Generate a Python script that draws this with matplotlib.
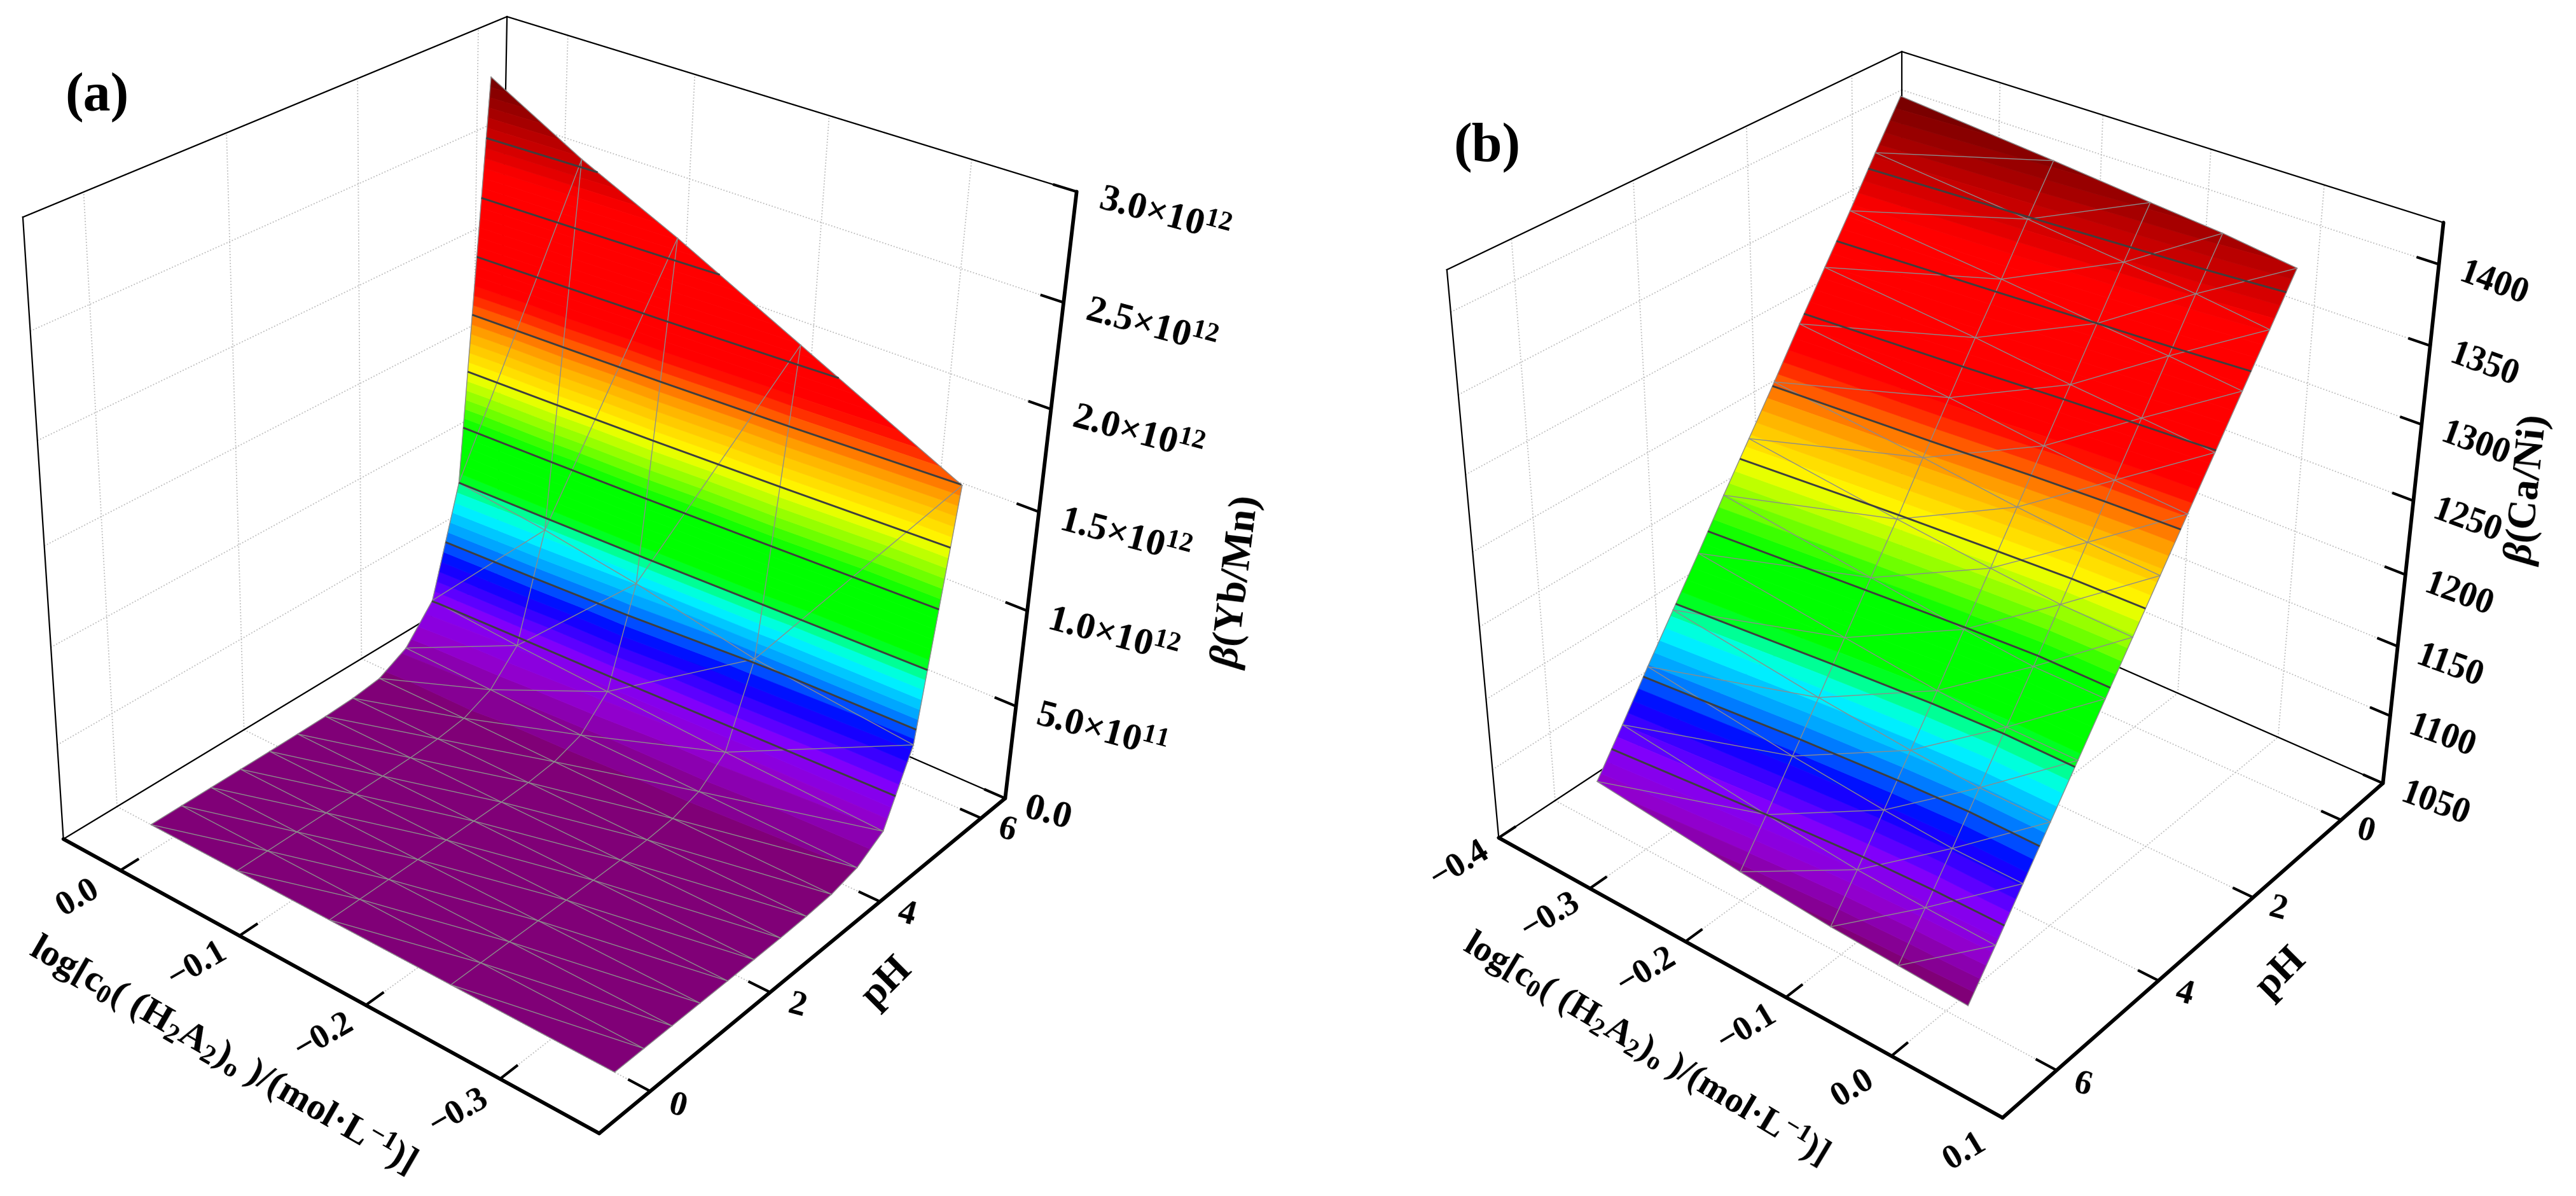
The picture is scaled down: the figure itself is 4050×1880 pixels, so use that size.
import numpy as np
import matplotlib
matplotlib.use("Agg")
import matplotlib.pyplot as plt
from matplotlib.colors import LinearSegmentedColormap
from mpl_toolkits.mplot3d import proj3d
from mpl_toolkits.mplot3d.art3d import Poly3DCollection

plt.rcParams.update({
    "font.family": "Liberation Serif", "font.weight": "bold",
    "mathtext.fontset": "custom", "mathtext.default": "regular",
    "mathtext.rm": "Liberation Serif:bold",
    "mathtext.it": "Liberation Serif:italic:bold",
    "mathtext.bf": "Liberation Serif:bold",
})

W, H = 4050, 1881

# ---------- data, panel (a)
a_logc = [0.02, -0.054, -0.13, -0.225, -0.345]
a_ph = [5.6, 5.13, 4.67, 4.2, 3.73, 3.27, 2.8, 2.33, 1.87, 1.4, 0.93, 0.47, 0]
a_beta = [[2.87e12, 2.62e12, 2.40e12, 2.10e12, 1.72e12],
          [0.86e12, 0.80e12, 0.72e12, 0.59e12, 0.50e12],
          [0.29e12, 0.25e12, 0.22e12, 0.18e12, 0.14e12],
          [0.11e12, 0.095e12, 0.075e12, 0.065e12, 0.05e12],
          [0.03e12, 0.03e12, 0.025e12, 0.02e12, 0.015e12],
          [0.01e12, 0.01e12, 0.008e12, 0.006e12, 0.005e12],
          [0.003e12, 0.003e12, 0.002e12, 0.002e12, 0.001e12],
          [0.001e12, 0.001e12, 0.001e12, 0.0, 0.0],
          [0.0, 0.0, 0.0, 0.0, 0.0],
          [0.0, 0.0, 0.0, 0.0, 0.0],
          [0.0, 0.0, 0.0, 0.0, 0.0],
          [0.0, 0.0, 0.0, 0.0, 0.0],
          [0.0, 0.0, 0.0, 0.0, 0.0]]
a_xticks = [0.0, -0.1, -0.2, -0.3]
a_xticklabels = ["0.0", "−0.1", "−0.2", "−0.3"]
a_yticks = [0, 2, 4, 6]
a_zticks = [0.0, 5e11, 1e12, 1.5e12, 2e12, 2.5e12, 3e12]
a_zticklabels = ["0.0", "5.0×10$^{11}$", "1.0×10$^{12}$", "1.5×10$^{12}$",
                 "2.0×10$^{12}$", "2.5×10$^{12}$", "3.0×10$^{12}$"]

# ---------- data, panel (b)
b_logc = [-0.35, -0.2, -0.11, -0.045, 0.02]
b_ph = [0, 0.5, 1, 1.5, 2, 2.5, 3, 3.5, 4, 4.5, 5, 5.5, 6]
b_beta = [[1422, 1413, 1407, 1403, 1397],
          [1394, 1385, 1379, 1375, 1369],
          [1365, 1356, 1350, 1346, 1341],
          [1337, 1328, 1321, 1317, 1313],
          [1309, 1299, 1292, 1288, 1285],
          [1280, 1270, 1263, 1259, 1257],
          [1252, 1240, 1234, 1230, 1229],
          [1224, 1212, 1205, 1201, 1201],
          [1195, 1183, 1176, 1173, 1173],
          [1167, 1154, 1148, 1145, 1145],
          [1139, 1126, 1120, 1117, 1117],
          [1110, 1098, 1092, 1090, 1089],
          [1082, 1071, 1066, 1064, 1062]]
b_xticks = [-0.4, -0.3, -0.2, -0.1, 0.0, 0.1]
b_xticklabels = ["−0.4", "−0.3", "−0.2", "−0.1", "0.0", "0.1"]
b_yticks = [0, 2, 4, 6]
b_zticks = [1050, 1100, 1150, 1200, 1250, 1300, 1350, 1400]
b_zticklabels = ["1050", "1100", "1150", "1200", "1250", "1300", "1350", "1400"]

XLABEL = "log[c$_0$( (H$_2$A$_2$)$_o$ )/(mol·L$^{-1}$)]"

# ---------- colours: fraction of the surface range -> colour
stops = [(0.0, (125, 0, 105)), (0.055, (145, 0, 205)), (0.11, (128, 0, 255)),
         (0.167, (0, 0, 255)), (0.22, (0, 160, 255)), (0.267, (0, 255, 255)),
         (0.295, (0, 255, 128)), (0.31, (0, 255, 0)), (0.40, (0, 255, 0)),
         (0.50, (255, 255, 0)), (0.575, (255, 160, 0)), (0.65, (255, 0, 0)),
         (0.85, (255, 0, 0)), (1.0, (115, 0, 0))]
cmap = LinearSegmentedColormap.from_list(
    "origin_rainbow", [(f, tuple(c / 255 for c in rgb)) for f, rgb in stops])


def box_projection(px):
    """3x4 camera matrix of the unit box from its corners in reference pixels."""
    rows = []
    for (nx, ny, nz), (u, v) in px:
        X = [nx, ny, nz, 1]
        rows.append(X + [0, 0, 0, 0] + [-u * c for c in X])
        rows.append([0, 0, 0, 0] + X + [-v * c for c in X])
    return np.linalg.svd(np.array(rows, float))[2][-1].reshape(3, 4)


def clip_z(poly, level, keep_above):
    out = []
    n = len(poly)
    for i in range(n):
        p, q = poly[i], poly[(i + 1) % n]
        ip = (p[2] >= level) == keep_above
        iq = (q[2] >= level) == keep_above
        if ip:
            out.append(p)
        if ip != iq and p[2] != q[2]:
            t = (level - p[2]) / (q[2] - p[2])
            out.append(tuple(p[k] + t * (q[k] - p[k]) for k in range(3)))
    return out


def draw_panel(fig, corners, xlim, ylim, zlim, logc, ph, beta, xticks, xlabels,
               yticks, zticks, zlabels, zrot, xyrot, yrot, zsize):
    ax = fig.add_axes([0, 0, 1, 1], projection="3d", facecolor="none",
                      computed_zorder=False, proj_type="ortho")
    ax.apply_aspect = lambda *a, **k: None
    ax._set_position([0, 0, 1, 1])
    ax.set_axis_off()
    ax.patch.set_visible(False)

    P = box_projection(corners)
    S = np.array([[1 / (xlim[1] - xlim[0]), 0, 0, -xlim[0] / (xlim[1] - xlim[0])],
                  [0, 1 / (ylim[1] - ylim[0]), 0, -ylim[0] / (ylim[1] - ylim[0])],
                  [0, 0, 1 / (zlim[1] - zlim[0]), -zlim[0] / (zlim[1] - zlim[0])],
                  [0, 0, 0, 1]])
    C = P @ S
    centre = np.array([np.mean(xlim), np.mean(ylim), np.mean(zlim), 1.0])
    if C[2] @ centre < 0:
        C = -C

    def get_proj():
        to_pix = np.array([[1, 0, 0], [0, -1, H], [0, 0, 1]], float)
        T = ax.transData.inverted().get_matrix() @ to_pix
        A = T @ C
        depth = A[2] - np.array([0, 0, 0, A[2] @ centre])
        return np.vstack([A[0], A[1], depth, A[2]])

    ax.get_proj = get_proj

    x0, x1 = xlim
    y0, y1 = ylim
    z0, z1 = zlim

    grid = dict(color="#bcbcbc", lw=1.3, ls=(0, (1, 1.6)), zorder=1)
    for t in xticks:
        ax.plot([t, t], [y0, y1], [z0, z0], **grid)
        ax.plot([t, t], [y1, y1], [z0, z1], **grid)
    for t in yticks:
        ax.plot([x0, x1], [t, t], [z0, z0], **grid)
        ax.plot([x0, x0], [t, t], [z0, z1], **grid)
    for t in zticks:
        ax.plot([x0, x0], [y0, y1], [t, t], **grid)
        ax.plot([x0, x1], [y1, y1], [t, t], **grid)

    thin = dict(color="black", lw=1.6, zorder=2)
    for xs, ys, zs in [([x0, x0], [y0, y1], [z0, z0]), ([x0, x1], [y1, y1], [z0, z0]),
                       ([x0, x0], [y1, y1], [z0, z1]), ([x0, x0], [y0, y0], [z0, z1]),
                       ([x0, x0], [y0, y1], [z1, z1]), ([x0, x1], [y1, y1], [z1, z1])]:
        ax.plot(xs, ys, zs, **thin)

    # surface: triangles of the table, cut into constant colour bands
    X, Y = np.meshgrid(logc, ph)
    Z = np.array(beta, float)
    zmin, zmax = Z.min(), Z.max()
    edges = np.linspace(zmin, zmax, 61)
    polys, cols, mesh = [], [], []
    for r in range(Z.shape[0] - 1):
        for i in range(Z.shape[1] - 1):
            a = (X[r, i], Y[r, i], Z[r, i])
            b = (X[r, i + 1], Y[r, i + 1], Z[r, i + 1])
            c = (X[r + 1, i], Y[r + 1, i], Z[r + 1, i])
            d = (X[r + 1, i + 1], Y[r + 1, i + 1], Z[r + 1, i + 1])
            mesh += [(a, b), (a, c), (b, c)]
            if r == Z.shape[0] - 2:
                mesh.append((c, d))
            if i == Z.shape[1] - 2:
                mesh.append((b, d))
            for tri in ([a, b, c], [b, d, c]):
                low, high = min(p[2] for p in tri), max(p[2] for p in tri)
                for k in range(len(edges) - 1):
                    lo, hi = edges[k], edges[k + 1]
                    if hi < low or lo > high:
                        continue
                    pg = clip_z(tri, lo, True)
                    pg = clip_z(pg, hi, False) if pg else pg
                    if len(pg) >= 3:
                        polys.append(pg)
                        cols.append(cmap((k + 0.5) / (len(edges) - 1)))
    ax.add_collection3d(Poly3DCollection(polys, facecolors=cols, edgecolors=cols,
                                         linewidths=0.5, zorder=3))
    for p, q in mesh:
        ax.plot([p[0], q[0]], [p[1], q[1]], [p[2], q[2]], color="#8c8c8c",
                lw=1.0, zorder=4)
    ax.contour(X, Y, Z, levels=zmin + (zmax - zmin) * np.arange(1, 10) / 10,
               colors="#3e3e3e", linewidths=2.1, zorder=5)

    # front axes, ticks, tick labels
    thick = dict(color="black", lw=4.2, solid_capstyle="round", zorder=6)
    ax.plot([x0, x1], [y0, y0], [z0, z0], **thick)
    ax.plot([x1, x1], [y0, y1], [z0, z0], **thick)
    ax.plot([x1, x1], [y1, y1], [z0, z1], **thick)
    dx, dy = x1 - x0, y1 - y0
    tick = dict(color="black", lw=3.0, zorder=6)
    M = get_proj()
    T2 = ax.transData

    def lab(x, y, z, s, rot, ha="center", size=39):
        u, v, _ = proj3d.proj_transform(x, y, z, M)
        ax.text2D(u, v, s, transform=T2, rotation=rot, ha=ha, va="center",
                  rotation_mode="anchor", fontsize=size, fontweight="bold", zorder=7)

    for t, s in zip(xticks, xlabels):
        ax.plot([t, t], [y0, y0 + 0.035 * dy], [z0, z0], **tick)
        lab(t, y0 - 0.085 * dy, z0, s, xyrot)
    for t in yticks:
        ax.plot([x1, x1 - 0.035 * dx], [t, t], [z0, z0], **tick)
        lab(x1 + 0.045 * dx, t, z0, str(t), yrot)
    for t, s in zip(zticks, zlabels):
        ax.plot([x1, x1 - 0.035 * dx], [y1, y1], [t, t], **tick)
        lab(x1 + 0.035 * dx, y1, t, s, zrot, ha="left", size=zsize)
    ax.set_xlim(min(xlim), max(xlim))
    ax.set_ylim(min(ylim), max(ylim))
    ax.set_zlim(min(zlim), max(zlim))
    return ax


fig = plt.figure(figsize=(W / 100, H / 100), dpi=100, facecolor="white")

corners_a = [((0, 0, 0), (100, 1318)), ((1, 0, 0), (942, 1784)), ((1, 1, 0), (1581, 1254)),
             ((0, 1, 0), (780, 910)), ((0, 0, 1), (35.6, 343)), ((0, 1, 1), (798, 26)),
             ((1, 1, 1), (1692, 303))]
corners_b = [((0, 0, 0), (2357, 1317)), ((1, 0, 0), (3149.5, 1758)), ((1, 1, 0), (3747, 1233)),
             ((0, 1, 0), (2988, 900)), ((0, 0, 1), (2273, 426)), ((0, 1, 1), (2993, 82)),
             ((1, 1, 1), (3840, 350))]

draw_panel(fig, corners_a, (0.05, -0.37), (-0.8, 6.5), (0, 3e12), a_logc, a_ph, a_beta,
           a_xticks, a_xticklabels, a_yticks, a_zticks, a_zticklabels, -15, 30, -15, 43)
draw_panel(fig, corners_b, (-0.4, 0.1), (7, -1), (1050, 1425), b_logc, b_ph, b_beta,
           b_xticks, b_xticklabels, b_yticks, b_zticks, b_zticklabels, -20, 31, -15, 40)


def ftext(x, y, s, rot=0, size=44):
    fig.text(x / W, 1 - y / H, s, rotation=rot, ha="center", va="center",
             rotation_mode="anchor", fontsize=size, fontweight="bold")


ftext(152, 153, "(a)", size=62)
ftext(2338, 232, "(b)", size=62)
ftext(350, 1658, XLABEL, -30, size=43)
ftext(2587, 1649, XLABEL, -31, size=41)
ftext(1395, 1545, "pH", 45, size=46)
ftext(3587, 1530, "pH", 45, size=46)
ftext(1945, 915, r"$\mathit{\beta}$(Yb/Mn)", 83, size=46)
ftext(3975, 770, r"$\mathit{\beta}$(Ca/Ni)", 84, size=46)

fig.savefig("out.png", dpi=100, facecolor="white")
